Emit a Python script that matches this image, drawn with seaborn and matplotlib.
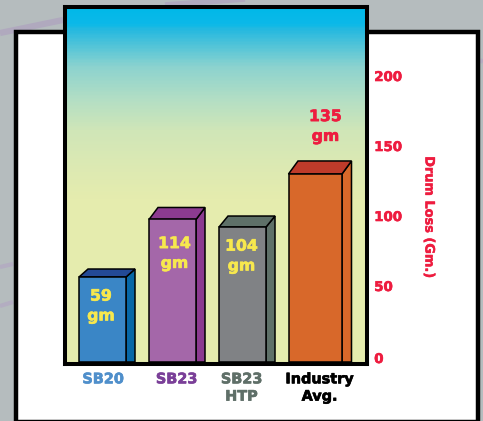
import matplotlib
matplotlib.use("Agg")
import matplotlib.pyplot as plt
import matplotlib.patheffects as pe
import seaborn as sns
import numpy as np
import pandas as pd
from matplotlib.colors import LinearSegmentedColormap
from matplotlib.lines import Line2D
from matplotlib.patches import Polygon, Rectangle
from matplotlib.transforms import Affine2D, ScaledTranslation

sns.set_theme(style="white")
plt.rcParams["font.family"] = ["DejaVu Sans"]
plt.rcParams["font.weight"] = "bold"

# ---- data
categories = ["SB20", "SB23", "SB23\nHTP", "Industry\nAvg."]
bar_heights = [60.7, 101.8, 96.4, 134.3]      # height of the drawn bars on the axis
value_labels = ["59\ngm", "114\ngm", "104\ngm", "135\ngm"]
y_ticks = [0, 50, 100, 150, 200]
y_title = "Drum Loss (Gm.)"

# ---- styles
front_cols = ["#3A86C6", "#A467A9", "#808285", "#D8682A"]
side_cols = ["#0767A6", "#8C3B90", "#5E7068", "#D8682A"]
top_cols = ["#234A96", "#8C3B90", "#5E7068", "#BF3B2A"]
cat_cols = ["#4F8FCB", "#7A3F98", "#5F6F68", "#000000"]
val_cols = ["#F7E84E", "#F7E84E", "#F7E84E", "#EE1C3F"]
RED = "#EE1C3F"
GREY = "#B5BCBE"
W, H = 483, 421

fig = plt.figure(figsize=(W / 100, H / 100), dpi=100, facecolor=GREY)
px = Affine2D().scale(1, -1).translate(0, H)  # figure pixels, y downward


def fig_line(xs, ys, col, lw):
    fig.add_artist(Line2D(xs, ys, transform=px, color=col, lw=lw, zorder=-5,
                          solid_capstyle="butt"))


def heavy(col, w=0.45):
    return [pe.withStroke(linewidth=w, foreground=col)]


# faint background swooshes
fig_line([0, 63], [33, 20], "#B0A9BE", 4.5)
fig_line([165, 245], [5, -1], "#B0A9BE", 4)
fig_line([0, 13], [267, 264], "#B3ADC1", 3)
fig_line([0, 13], [306, 302], "#B3ADC1", 3)
fig_line([480, 483], [60, 62], "#B3ADC1", 3)

# white panel
fig.add_artist(Rectangle((15.5, 31.5), 462.5, 390.5, transform=px, facecolor="white",
                         edgecolor="black", lw=3.2, zorder=-4))
fig_line([18, 62], [268, 262], "#F8F5F9", 3)
fig_line([18, 62], [303, 296], "#F8F5F9", 3)
fig_line([18, 36], [385, 400], "#F8F5F9", 3)

# axes: left 65, right 367, top 7, bottom 364 (pixels)
ax = fig.add_axes([65 / W, 1 - 364 / H, 302 / W, 357 / H])
ax.patch.set_alpha(0)

df = pd.DataFrame({"cat": categories, "h": bar_heights})
sns.barplot(data=df, x="cat", y="h", order=categories, hue="cat", hue_order=categories,
            palette=front_cols, legend=False, width=47 / 70, saturation=1, ax=ax,
            edgecolor="black", linewidth=1.1, zorder=3)

x_per_px = 1 / 70
y_per_px = 1 / 1.4
ax.set_xlim(-37.5 * x_per_px, 264.5 * x_per_px)
ylim = (-2 * y_per_px, 355 * y_per_px)
ax.set_ylim(*ylim)

# gradient backdrop
stops = [(0.0, "#00B8E8"), (0.045, "#0CB9E8"), (0.06, "#25B9E0"), (0.165, "#8CD3CF"),
         (0.26, "#B4DFC4"), (0.345, "#D0E6B8"), (0.46, "#DEEAB2"), (0.54, "#E5ECAE"),
         (1.0, "#E6ECAE")]
cmap = LinearSegmentedColormap.from_list("bg", stops)
ax.imshow(np.linspace(0, 1, 357).reshape(-1, 1), cmap=cmap, aspect="auto",
          extent=(0, 1, 0, 1), transform=ax.transAxes, zorder=0)
ax.set_xlim(-37.5 * x_per_px, 264.5 * x_per_px)
ax.set_ylim(*ylim)

# fit the drawn bars and add their sides and tops
bars = [p for p in ax.patches if p.get_height() > 0][:4]
depth_px = [(9, 8), (9, 12), (9, 11), (9.5, 13)]
for i, b in enumerate(bars):
    if i == 3:
        b.set_x(b.get_x() - 0.5 * x_per_px)
        b.set_width(53.5 * x_per_px)
    x0, x1, top = b.get_x(), b.get_x() + b.get_width(), b.get_height()
    dx, dy = depth_px[i][0] * x_per_px, depth_px[i][1] * y_per_px
    ax.add_patch(Polygon([(x1, 0), (x1, top), (x1 + dx, top + dy), (x1 + dx, 0)],
                         facecolor=side_cols[i], edgecolor="black", lw=1.1, zorder=2.9))
    ax.add_patch(Polygon([(x0, top), (x0 + dx, top + dy), (x1 + dx, top + dy), (x1, top)],
                         facecolor=top_cols[i], edgecolor="black", lw=1.1, zorder=2.9))

# value labels: offsets from the bar top centre, pixels
label_off = [(-1.5, -29), (2, -34), (-1, -29), (13, 47.5)]
for i, b in enumerate(bars):
    ax.annotate(value_labels[i], xy=(i, b.get_height()), xycoords="data",
                xytext=(label_off[i][0] * 0.72, label_off[i][1] * 0.72),
                textcoords="offset points", ha="center", va="center", fontsize=11.3,
                fontweight="bold", color=val_cols[i], zorder=5, linespacing=1.4,
                path_effects=heavy(val_cols[i]))

# frame
for s in ax.spines.values():
    s.set_visible(True)
    s.set_color("black")
    s.set_linewidth(2.9)
    s.set_zorder(6)

# axes text
ax.yaxis.tick_right()
ax.set_yticks(y_ticks)
ax.set_yticklabels([str(v) for v in y_ticks], fontsize=9.6, fontweight="bold", color=RED,
                   path_effects=heavy(RED))
ax.tick_params(axis="y", length=0, pad=5.2)
ax.tick_params(axis="x", length=0, pad=6)
for tick, v in zip(ax.get_yticklabels(), y_ticks):
    up = 4 if v == 0 else 6
    tick.set_transform(tick.get_transform() + ScaledTranslation(0, up / 100, fig.dpi_scale_trans))

ax.set_xticks(range(4))
ax.set_xticklabels(categories, fontsize=10.4, fontweight="bold", linespacing=1.3)
cat_dx = [0.5, 4, -1, 7]
for tick, c, d in zip(ax.get_xticklabels(), cat_cols, cat_dx):
    tick.set_color(c)
    tick.set_path_effects(heavy(c))
    tick.set_transform(tick.get_transform() + ScaledTranslation(d / 100, 0, fig.dpi_scale_trans))

ax.set_xlabel("")
ax.yaxis.set_label_position("right")
ax.set_ylabel(y_title, rotation=270, color=RED, fontsize=9.3, fontweight="bold", va="center",
              path_effects=heavy(RED, 0.35))
ax.yaxis.set_label_coords((429 - 65) / 302, (364 - 217) / 357)

fig.savefig("out.png", dpi=100, facecolor=GREY)
